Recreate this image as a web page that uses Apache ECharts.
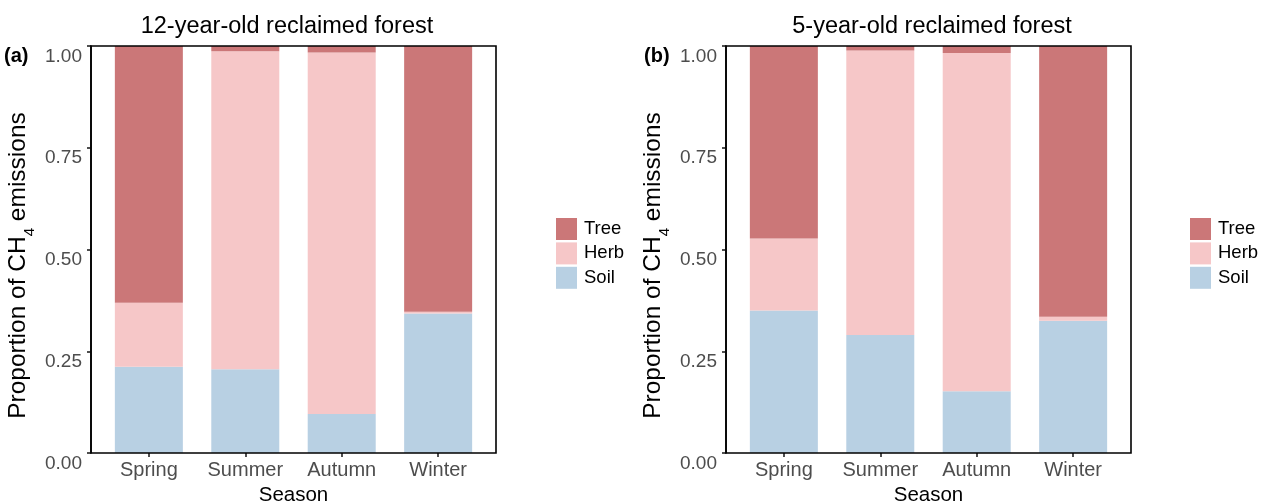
<!DOCTYPE html>
<html>
<head>
<meta charset="utf-8">
<script src="https://cdn.jsdelivr.net/npm/echarts@6/dist/echarts.min.js"></script>
<style>
html,body{margin:0;padding:0;background:#fff;}
#chart{width:1270px;height:503px;}
</style>
</head>
<body>
<div id="chart"></div>
<script>
// ---- data ----
const seasons = ['Spring', 'Summer', 'Autumn', 'Winter'];
const yTicks = [0, 0.25, 0.5, 0.75, 1];
const titles = ['12-year-old reclaimed forest', '5-year-old reclaimed forest'];
const panelLabels = ['(a)', '(b)'];
const seriesNames = ['Tree', 'Herb', 'Soil'];

// 12-year-old reclaimed forest
const soilA = [0.212, 0.206, 0.096, 0.343];
const herbA = [0.157, 0.781, 0.888, 0.004];
const treeA = [0.631, 0.013, 0.016, 0.653];
// 5-year-old reclaimed forest
const soilB = [0.350, 0.290, 0.152, 0.325];
const herbB = [0.177, 0.699, 0.831, 0.010];
const treeB = [0.473, 0.011, 0.017, 0.665];

// ---- layout / style ----
const FONT = '"Liberation Sans", Arial, sans-serif';
const colors = { Tree: '#CB7778', Herb: '#F6C7C8', Soil: '#B8D0E3' };
const panels = [
  { left: 91, top: 46, width: 405, height: 407 },
  { left: 726, top: 46, width: 405, height: 407 }
];
// ggplot-like discrete expansion: 0.6 units on each side of 4 categories
const unitFrac = 1 / 4.2;
const grids = panels.map(p => {
  const u = p.width * unitFrac;
  return { left: p.left + 0.1 * u, top: p.top, width: 4 * u, height: p.height, _off: 0.1 * u };
});
const titleX = [282, 927];
const legendX = [556, 1190];
const labelX = [4, 644];

const chart = echarts.init(document.getElementById('chart'), null, { renderer: 'canvas' });

const xAxes = grids.map((g, i) => ({
  type: 'category', gridIndex: i, data: seasons, z: 10,
  axisLine: { show: false },
  axisTick: { show: true, interval: 0, alignWithLabel: true, length: 4, lineStyle: { color: '#222', width: 1.6 } },
  axisLabel: { interval: 0, color: '#4d4d4d', fontSize: 20, fontFamily: FONT, margin: 7 },
  name: 'Season', nameLocation: 'middle', nameGap: 31,
  nameTextStyle: { color: '#000', fontSize: 20.5, fontFamily: FONT }
}));

const yAxes = grids.map((g, i) => ({
  type: 'value', gridIndex: i, min: 0, max: 1, interval: 0.25, z: 10,
  offset: g._off,
  splitLine: { show: false },
  axisLine: { show: true, lineStyle: { color: '#000', width: 1.6 } },
  axisTick: { show: true, length: 4, lineStyle: { color: '#222', width: 1.6 } },
  axisLabel: {
    formatter: v => v.toFixed(2), color: '#4d4d4d', fontSize: 19, fontFamily: FONT,
    margin: 9, verticalAlign: 'top', padding: [1, 0, 0, 0]
  },
  name: '{a|Proportion of CH}{s|4}{a| emissions}',
  nameLocation: 'middle', nameGap: 60,
  nameTextStyle: {
    padding: [0, 32, 0, 0],
    rich: {
      a: { fontSize: 24.5, fontFamily: FONT, color: '#000' },
      s: { fontSize: 15, fontFamily: FONT, color: '#000', verticalAlign: 'bottom', padding: [0, 0, -6, 0] }
    }
  }
}));

const dataSets = [
  { Soil: soilA, Herb: herbA, Tree: treeA },
  { Soil: soilB, Herb: herbB, Tree: treeB }
];

const series = [];
dataSets.forEach((ds, i) => {
  ['Soil', 'Herb', 'Tree'].forEach(name => {
    series.push({
      type: 'bar', name: name, stack: 'p' + i,
      xAxisIndex: i, yAxisIndex: i,
      barWidth: 68,
      data: ds[name],
      itemStyle: { color: colors[name] },
      emphasis: { disabled: true },
      animation: false
    });
  });
});

const option = {
  animation: false,
  backgroundColor: '#fff',
  textStyle: { fontFamily: FONT },
  grid: grids.map(g => ({
    left: g.left, top: g.top, width: g.width, height: g.height,
    containLabel: false, outerBoundsMode: 'none'
  })),
  xAxis: xAxes,
  yAxis: yAxes,
  title: titles.map((t, i) => ({
    text: t, left: titleX[i], top: 10, textAlign: 'center',
    textStyle: { color: '#000', fontSize: 23.5, fontWeight: 'normal', fontFamily: FONT }
  })),
  legend: legendX.map((x, i) => ({
    data: seriesNames, orient: 'vertical', left: x, top: 218,
    itemWidth: 21, itemHeight: 22, itemGap: 2.4, icon: 'rect',
    selectedMode: false, padding: 0,
    textStyle: { color: '#000', fontSize: 18.5, fontFamily: FONT, padding: [0, 0, 0, 2] }
  })),
  graphic: [
    ...panelLabels.map((t, i) => ({
      type: 'text', left: labelX[i], top: 46, z: 100,
      style: { text: t, fill: '#000', font: 'bold 20px ' + FONT }
    })),
    ...panels.map(p => ({
      type: 'rect', z: 100, silent: true,
      shape: { x: p.left, y: p.top, width: p.width, height: p.height },
      style: { fill: 'none', stroke: '#000', lineWidth: 1.6 }
    }))
  ],
  series: series
};
chart.setOption(option);
</script>
</body>
</html>
